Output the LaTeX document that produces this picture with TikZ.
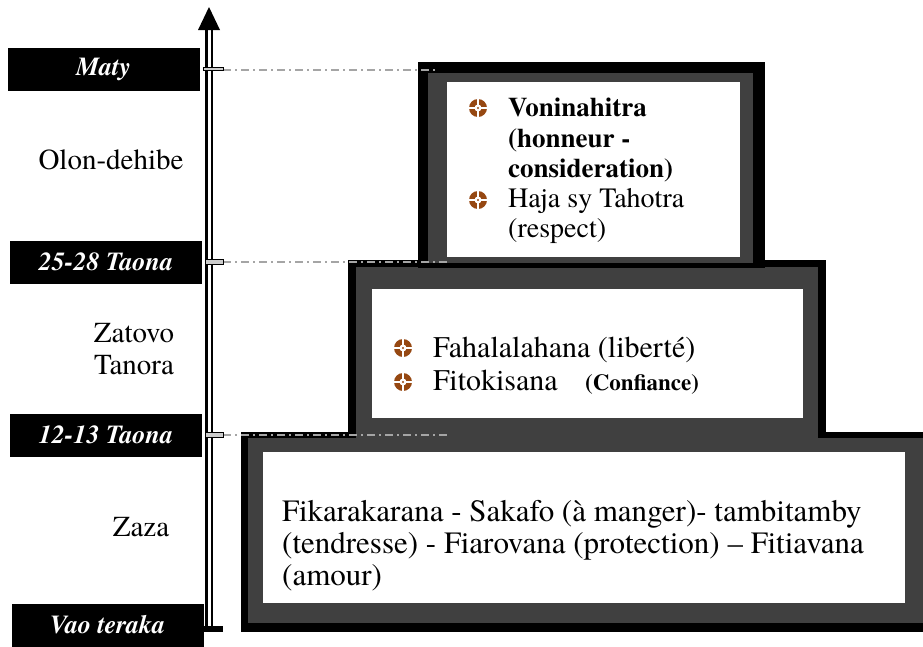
\documentclass[tikz,border=0pt]{standalone}
\usepackage{fontspec}
\setmainfont{texgyretermes}[Extension=.otf, UprightFont=*-regular, BoldFont=*-bold,
  ItalicFont=*-italic, BoldItalicFont=*-bolditalic]
\definecolor{grisfonce}{RGB}{64,64,64}
\definecolor{gristirets}{RGB}{165,165,165}
\definecolor{brun}{RGB}{150,72,18}
\tikzset{
  etiq/.style={fill=black, text=white, inner sep=0pt, minimum width=192pt, minimum height=43pt,
    font=\bfseries\itshape\fontsize{26}{28}\selectfont},
  age/.style={font=\fontsize{29}{32}\selectfont, align=center, inner sep=0pt},
  ligne/.style={anchor=base west, inner sep=0pt},
  tirets/.style={gristirets, line width=1.5pt, dash pattern=on 8pt off 4pt on 2pt off 4pt},
  cran/.style={draw=black, fill=gray!40, line width=0.8pt},
  axe/.style={double=white, double distance=3pt, line width=2.5pt},
  puce/.pic={
    \fill[brun] (0,0) circle (9pt);
    \draw[white, line width=2.5pt] (-10,0) -- (10,0) (0,-10) -- (0,10);
    \fill[white] (0,0) circle (3.5pt);
    \fill[brun] (0,0) circle (1.2pt);
  }
}
\begin{document}
\begin{tikzpicture}[x=1pt, y=-1pt]
        \useasboundingbox[fill=white] (0,0) rectangle (923,646);

        % boite du bas (Zaza)
        \fill[black] (241,432) rectangle (923,632);
        \fill[grisfonce] (248,438) rectangle (923,623);
        \fill[white] (263,452) rectangle (905,603);

        % boite du milieu (Zatovo Tanora)
        \fill[black] (348,260) rectangle (826,437);
        \fill[grisfonce] (356,267) rectangle (818,441);
        \fill[white] (372,289) rectangle (803,418);

        % boite du haut (Olon-dehibe)
        \fill[black] (418,62) rectangle (765,268);
        \fill[grisfonce] (428,73) rectangle (753,263);
        \fill[white] (447,82) rectangle (740,257);

        % textes de la boite du haut
        \pic at (478,108) {puce};
        \node[ligne, font=\bfseries\fontsize{27}{30}\selectfont] (vonin) at (508,116) {Voninahitra};
        \node[ligne, font=\bfseries\fontsize{27}{30}\selectfont] (honneur) at (508,147) {(honneur -};
        \node[ligne, font=\bfseries\fontsize{27}{30}\selectfont] (consid) at (508,177) {consideration)};
        \pic at (478,200) {puce};
        \node[ligne, font=\fontsize{28}{30}\selectfont] (haja) at (508,207) {Haja sy Tahotra};
        \node[ligne, font=\fontsize{28}{30}\selectfont] (respect) at (508,237) {(respect)};

        % textes de la boite du milieu
        \pic at (403,348) {puce};
        \node[ligne, font=\fontsize{30}{32}\selectfont] (fahal) at (433,357) {Fahalalahana (liberté)};
        \pic at (403,382) {puce};
        \node[ligne, font=\fontsize{30}{32}\selectfont] (fitok) at (433,390) {Fitokisana};
        \node[ligne, font=\bfseries\fontsize{23}{24}\selectfont] (confiance) at (585,390) {(Confiance)};

        % textes de la boite du bas
        \node[ligne, font=\fontsize{31}{32}\selectfont] (zaza1) at (282,521) {Fikarakarana - Sakafo (à manger)- tambitamby};
        \node[ligne, font=\fontsize{31}{32}\selectfont] (zaza2) at (282,553) {(tendresse) - Fiarovana (protection) – Fitiavana};
        \node[ligne, font=\fontsize{31}{32}\selectfont] (zaza3) at (282,585) {(amour)};

        % reperes des ages
        \coordinate (tMaty) at (223,70);
        \coordinate (fMaty) at (437,70);
        \coordinate (tVingt) at (223,262);
        \coordinate (fVingt) at (447,262);
        \coordinate (tDouze) at (223,435);
        \coordinate (fDouze) at (448,435);

        % liens entre l'axe et les boites
        \draw[tirets] (tMaty) -- (fMaty);
        \draw[tirets] (tVingt) -- (fVingt);
        \draw[tirets] (tDouze) -- (fDouze);

        % axe du temps
        \coordinate (axeBas) at (209,628);
        \coordinate (axeHaut) at (209,30);
        \draw[axe] (axeBas) -- (axeHaut);
        \fill[black] (198,30) -- (220,30) -- (209,7) -- cycle;
        \draw[cran] (203,67) rectangle (tMaty);
        \draw[cran] (205,259) rectangle (223,264);
        \draw[cran] (205,432) rectangle (223,437);
        \fill[black] (203,626) rectangle (223,632);

        % etiquettes noires
        \node[etiq] (maty) at (103.5,69) {Maty};
        \node[etiq] (vingt) at (106,262) {25-28 Taona};
        \node[etiq] (douze) at (106,435) {12-13 Taona};
        \node[etiq] (vao) at (107.5,625) {Vao teraka};

        % noms des ages
        \node[age] (olon) at (111,160) {Olon-dehibe};
        \node[age] (zatovo) at (134,349) {Zatovo\\Tanora};
        \node[age] (zaza) at (141,527) {Zaza};
\end{tikzpicture}
\end{document}
